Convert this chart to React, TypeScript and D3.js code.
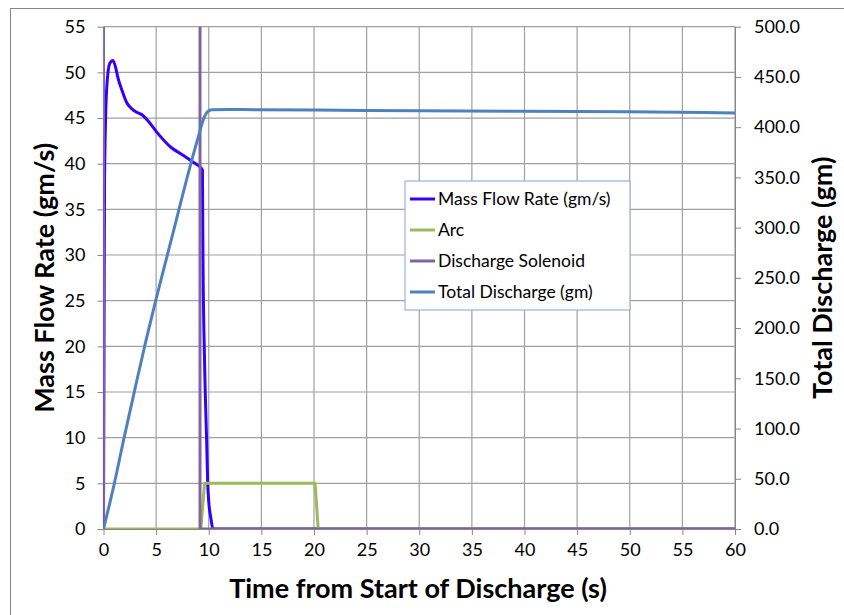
import * as d3 from "d3";
import { useEffect, useRef } from "react";

const width = 844;
const height = 615;
const marginLeft = 103.5;
const marginRight = 109;
const marginTop = 26.7;
const marginBottom = 86;

// Mass Flow Rate (gm/s), left axis
const flowTime = [0, 0.05, 0.1, 0.2, 0.35, 0.6, 0.9, 1.2, 1.35, 1.8, 2.2, 2.7, 3.2, 3.6, 4.3, 5.1, 6.4, 7.6, 8.6, 9.2, 9.4, 9.45, 9.6, 9.8, 9.9, 10.0, 10.2, 10.4, 60];
const flowRate = [0, 20, 38, 45, 49, 51, 51.3, 50.3, 49.5, 47.9, 46.7, 46, 45.6, 45.4, 44.6, 43.4, 41.8, 40.9, 40.1, 39.6, 39.3, 30, 18.5, 9.6, 5, 3, 1.2, 0, 0];

// Arc, left axis
const arcTime = [0, 9.25, 9.6, 20.1, 20.4, 60];
const arcValue = [0, 0, 5, 5, 0, 0];

// Discharge Solenoid, left axis (on level is above the axis top)
const solTime = [0, 0, 9.17, 9.17, 60];
const solValue = [0, 60, 60, 0, 0];

// Total Discharge (gm), right axis
const totalTime = [0, 1, 2, 3, 4, 5, 6, 7, 8, 9, 9.5, 9.9, 10.3, 12, 20, 30, 40, 50, 57, 60];
const totalValue = [0, 44, 93, 140, 186, 229, 270, 311, 352, 390, 408, 415.5, 417.3, 417.5, 417, 416.3, 415.8, 415.3, 414.5, 414];

const xTicks = d3.range(0, 61, 5);
const yTicks = d3.range(0, 56, 5);
const y2Ticks = d3.range(0, 501, 50);

const legendItems = [
  { label: "Mass Flow Rate (gm/s)", color: "#3300ff" },
  { label: "Arc", color: "#9bbb59" },
  { label: "Discharge Solenoid", color: "#8064a2" },
  { label: "Total Discharge (gm)", color: "#4f81bd" },
];

const font = "Lato, 'Open Sans', sans-serif";

const App = () => {
  const gx = useRef<any>(null);
  const gy = useRef<any>(null);
  const gy2 = useRef<any>(null);

  const x = d3.scaleLinear([0, 60], [marginLeft, width - marginRight]);
  const y = d3.scaleLinear([0, 55], [height - marginBottom, marginTop]);
  const y2 = d3.scaleLinear([0, 500], [height - marginBottom, marginTop]);

  const zip = (t: number[], v: number[]) => t.map((d, i) => [d, v[i]] as [number, number]);
  const smooth = d3.line<[number, number]>((d) => x(d[0]), (d) => y(d[1])).curve(d3.curveMonotoneX);
  const straight = d3.line<[number, number]>((d) => x(d[0]), (d) => y(d[1]));
  const total = d3.line<[number, number]>((d) => x(d[0]), (d) => y2(d[1])).curve(d3.curveMonotoneX);

  useEffect(() => {
    const style = (g: any) => {
      g.select(".domain").attr("stroke", "#868686");
      g.selectAll(".tick line").attr("stroke", "#868686");
      g.selectAll(".tick text").attr("fill", "#000").attr("font-family", font).attr("font-size", 18);
    };
    d3.select(gx.current)
      .call(d3.axisBottom(x).tickValues(xTicks).tickSize(6).tickSizeOuter(0).tickPadding(8).tickFormat(d3.format("d")))
      .call(style);
    d3.select(gy.current)
      .call(d3.axisLeft(y).tickValues(yTicks).tickSize(6).tickSizeOuter(0).tickPadding(12).tickFormat(d3.format("d")))
      .call(style);
    d3.select(gy2.current)
      .call(d3.axisRight(y2).tickValues(y2Ticks).tickSize(6).tickSizeOuter(0).tickPadding(13).tickFormat(d3.format(".1f")))
      .call(style);
  }, [gx, gy, gy2]);

  const plotW = width - marginLeft - marginRight;
  const plotH = height - marginTop - marginBottom;
  const legX = 405;
  const legY = 181;

  return (
    <svg width={width} height={height} style={{ position: "absolute", left: 0, top: 0, background: "#fff" }}>
      <defs>
        <clipPath id="plot">
          <rect x={marginLeft} y={marginTop} width={plotW} height={plotH} />
        </clipPath>
      </defs>
      <rect x={10.5} y={8.5} width={width} height={height} fill="none" stroke="#868686" />
      <g stroke="#a0a0a0" strokeWidth={1.2}>
        {yTicks.map((t) => (
          <line key={"h" + t} x1={marginLeft} x2={width - marginRight} y1={y(t)} y2={y(t)} />
        ))}
        {xTicks.map((t) => (
          <line key={"v" + t} x1={x(t)} x2={x(t)} y1={marginTop} y2={height - marginBottom} />
        ))}
      </g>
      <g ref={gx} transform={`translate(0,${height - marginBottom})`} />
      <g ref={gy} transform={`translate(${marginLeft},0)`} />
      <g ref={gy2} transform={`translate(${width - marginRight},0)`} />
      <g clipPath="url(#plot)" fill="none" strokeWidth={3} strokeLinejoin="round">
        <path stroke="#3300ff" d={smooth(zip(flowTime, flowRate)) as string} />
        <path stroke="#9bbb59" d={straight(zip(arcTime, arcValue)) as string} />
        <path stroke="#8064a2" d={straight(zip(solTime, solValue)) as string} />
        <path stroke="#4f81bd" d={total(zip(totalTime, totalValue)) as string} />
      </g>
      <g fontFamily={font}>
        <rect x={legX} y={legY} width={225} height={129} fill="#fff" stroke="#95b3d7" strokeWidth={1.2} />
        {legendItems.map((d, i) => (
          <g key={d.label} transform={`translate(${legX},${legY + 18 + i * 31})`}>
            <line x1={5} x2={30} y1={0} y2={0} stroke={d.color} strokeWidth={3} />
            <text x={33} y={0} dy="0.35em" fontSize={17.5}>{d.label}</text>
          </g>
        ))}
      </g>
      <g fontFamily={font} fontWeight="bold" fontSize={27} textAnchor="middle">
        <text x={418} y={598}>Time from Start of Discharge (s)</text>
        <text transform={`translate(54,${(marginTop + height - marginBottom) / 2}) rotate(-90)`}>Mass Flow Rate (gm/s)</text>
        <text transform={`translate(832,${(marginTop + height - marginBottom) / 2}) rotate(-90)`}>Total Discharge (gm)</text>
      </g>
    </svg>
  );
};

export default App;
